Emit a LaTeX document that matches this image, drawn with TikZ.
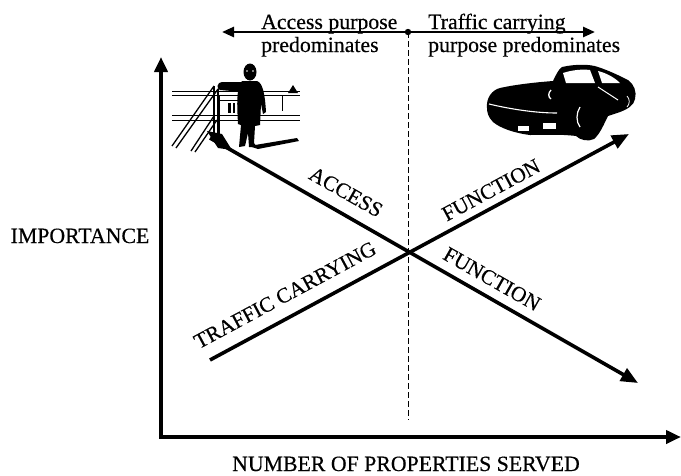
\documentclass[tikz,border=0pt]{standalone}
\usepackage{fontspec}
\setmainfont{Liberation Serif}
\newfontfamily\heavyserif{Liberation Serif}[FakeBold=0.4]
\usetikzlibrary{arrows.meta}
\tikzset{
  axisline/.style={line width=4pt, line cap=rect, -{Triangle[length=15pt,width=13pt]}},
  diagline/.style={line width=3.6pt, -{Triangle[length=17pt,width=14pt]}},
  topline/.style={line width=2.6pt, -{Triangle[length=12pt,width=10pt]}},
  dashline/.style={line width=0.8pt, dash pattern=on 6pt off 3pt},
  bigtext/.style={font=\heavyserif\fontsize{21.8}{22}\selectfont, inner sep=0pt, anchor=base},
  toptext/.style={font=\heavyserif\fontsize{21.8}{22}\selectfont, inner sep=0pt, anchor=base west},
  difftext/.style={font=\heavyserif\fontsize{21.3}{22}\selectfont, inner sep=0pt},
  thin/.style={line width=0.9pt},
  rail/.style={line width=1.3pt},
}
\begin{document}
\begin{tikzpicture}[x=1pt,y=-1pt]
\useasboundingbox[fill=white] (0,0) rectangle (681,475);
% key points
\coordinate (O) at (161,437);
\coordinate (Ytip) at (161,57);
\coordinate (Xtip) at (681,437);
\coordinate (M) at (408,32);
\coordinate (Ltip) at (222,32);
\coordinate (Rtip) at (595,32);
\coordinate (Dend) at (408,420);
\coordinate (Astart) at (210,138);
\coordinate (Aend) at (638,383);
\coordinate (Tstart) at (210,360);
\coordinate (Tend) at (629,134);

% axes
\draw[axisline] (O) -- (Ytip);
\draw[axisline] (O) -- (Xtip);
% top arrow
\draw[topline] (M) -- (Ltip);
\draw[topline] (M) -- (Rtip);
\fill (M) circle (3.2pt);
\draw[dashline] (M) -- (Dend);

% diagonal lines
\draw[diagline] (Astart) -- (Aend);
\draw[diagline] (Tstart) -- (Tend);

% texts
\node[toptext] (ap1) at (261,29) {Access purpose};
\node[toptext] (ap2) at (261,52) {predominates};
\node[toptext] (tc1) at (428,29) {Traffic carrying};
\node[toptext] (tc2) at (428,52) {purpose predominates};
\node[bigtext] (imp) at (80,243) {IMPORTANCE};
\node[bigtext] (num) at (406,471) {NUMBER OF PROPERTIES SERVED};
\node[difftext, rotate=-29.6] (acc) at (346,192) {ACCESS};
\node[difftext, rotate=28.3] (fun1) at (491,190) {FUNCTION};
\node[difftext, rotate=-29.6] (fun2) at (492,279) {FUNCTION};
\node[difftext, rotate=28.3] (trc) at (285,295) {TRAFFIC CARRYING};

% ---- child scene ----
\draw[thin] (172,91) -- (300,91);
\draw[thin] (172,95) -- (300,95);
\draw[thin] (172,115) -- (300,115);
\draw[thin] (172,120) -- (300,120);
\draw[thin] (282,95) -- (282,111);
\fill (288,93) -- (293,85) -- (298,93) -- cycle;
\fill[white] (219,97) rectangle (238,113);
\draw[thin] (219,95) -- (219,136);
\draw[thin] (219,100) -- (238,100);
\fill (228,103) rectangle (230.5,113);
\fill (232.5,103) rectangle (235,113);
% railing
\draw[rail] (172,146) -- (214,86);
\draw[rail] (176,148) -- (218,89);
\draw[rail] (191,151) -- (214,116);
\draw[rail] (195,152) -- (217,120);
\draw[rail] (214,86) -- (214,138);
\draw[rail] (218,89) -- (218,138);
\fill (207,131) -- (222,134) -- (232,150) -- (218,148) -- cycle;
% child
\fill (250,72) ellipse (6.5pt and 8.5pt);
\fill[white] (247,71) circle (0.9pt) (253,71) circle (0.9pt);
\fill (244,82) -- (222,82) .. controls (217,82) and (216,89) .. (220,90)
  -- (243,92) -- cycle;
\fill (242,81) -- (257,81) .. controls (263,83) and (265,95) .. (266,112)
  -- (263,114) -- (261,104) -- (260,125) -- (255,126)
  -- (254,143) -- (257,147) -- (249,147) -- (248,133)
  -- (245,146) -- (239,147) -- (241,125) -- (238,124)
  .. controls (237,105) and (236,88) .. cycle;
\fill (249,146) -- (297,138) -- (299,141) -- (258,149) -- cycle;

% ---- car ----
\fill (487,108) .. controls (486,98) and (492,90) .. (500,88)
  .. controls (518,84) and (540,82) .. (553,81)
  .. controls (556,75) and (558,70) .. (562,67)
  .. controls (575,64) and (590,64) .. (598,67)
  .. controls (610,71) and (620,76) .. (628,80)
  .. controls (634,84) and (637,92) .. (635,99)
  .. controls (634,105) and (628,109) .. (620,112)
  -- (608,116)
  .. controls (604,124) and (600,134) .. (594,139)
  .. controls (588,142) and (580,140) .. (576,136)
  .. controls (560,134) and (545,135) .. (530,135)
  .. controls (514,133) and (500,128) .. (493,122)
  .. controls (488,117) and (487,112) .. cycle;
% windows
\fill[white] (563,73) .. controls (572,70) and (582,69) .. (590,70)
  -- (595,83) -- (566,83) -- cycle;
\fill[white] (598,71) .. controls (606,73) and (614,77) .. (620,83)
  -- (602,83) -- cycle;
% highlights
\draw[white, line width=1.1pt] (489,104) .. controls (510,109) and (535,113) .. (557,113);
\draw[white, line width=1.3pt] (551,90) .. controls (548,93) and (548,97) .. (551,99);
\draw[white, line width=1pt] (598,87) -- (618,100);
\fill[white] (518,126) rectangle (529,131);
\fill[white] (543,123) rectangle (556,129);
\draw[white, line width=1.2pt] (580,107) .. controls (576,113) and (576,122) .. (580,127);
\draw[white, line width=0.8pt] (627,96) .. controls (630,99) and (630,104) .. (627,107);
\end{tikzpicture}
\end{document}
